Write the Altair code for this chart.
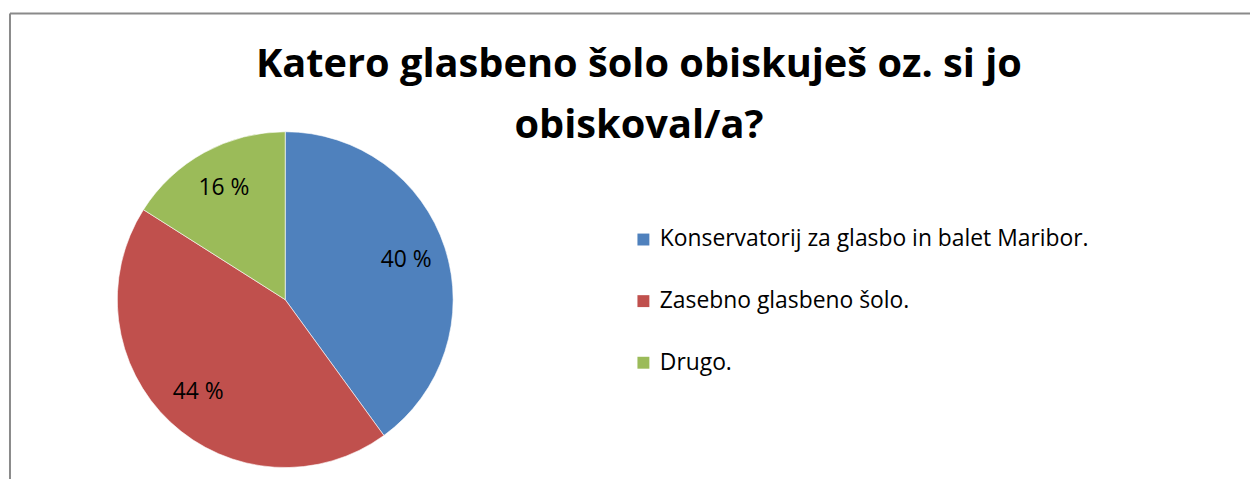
import altair as alt
import pandas as pd

categories = ["Konservatorij za glasbo in balet Maribor.", "Zasebno glasbeno šolo.", "Drugo."]
values = [40, 44, 16]
labels = ["40 %", "44 %", "16 %"]
order = [0, 1, 2]
colors = ["#4F81BD", "#C0504D", "#9BBB59"]
title_lines = ["Katero glasbeno šolo obiskuješ oz. si jo", "obiskoval/a?"]

df = pd.DataFrame({"cat": categories, "val": values, "lab": labels, "ord": order})

W, H = 1248, 467
CX, CY = 277, 288
FONT = "Open Sans"

base = alt.Chart(df).encode(
    theta=alt.Theta("val:Q", stack=True),
    order=alt.Order("ord:Q"),
)

pie = base.mark_arc(outerRadius=169, x=CX, y=CY, stroke="white", strokeWidth=0.6).encode(
    color=alt.Color(
        "cat:N",
        scale=alt.Scale(domain=categories, range=colors),
        sort=categories,
        legend=alt.Legend(
            orient="none", legendX=626, legendY=216, title=None,
            symbolType="square", symbolSize=144, symbolStrokeWidth=0,
            labelFontSize=23, labelFont=FONT, labelColor="black",
            rowPadding=38, labelOffset=5, labelLimit=600,
        ),
    ),
)

text = base.mark_text(radius=128, x=CX, y=CY, fontSize=23, font=FONT, color="black").encode(
    text="lab:N",
)

frame_df = pd.DataFrame({"k": [0]})
top_rule = alt.Chart(frame_df).mark_rule(color="#8a8a8a", strokeWidth=2).encode(
    x=alt.value(0), x2=alt.value(W), y=alt.value(0)
)
left_rule = alt.Chart(frame_df).mark_rule(color="#8a8a8a", strokeWidth=2).encode(
    x=alt.value(0), y=alt.value(0), y2=alt.value(H + 30)
)

chart = alt.layer(top_rule, left_rule, pie, text).properties(
    width=W,
    height=H,
    background="white",
    autosize=alt.AutoSizeParams(type="none"),
    padding={"left": 2, "top": 4, "right": 0, "bottom": 0},
    title=alt.TitleParams(
        text=title_lines, fontSize=40, font=FONT, fontWeight="bold", color="black",
        anchor="middle", frame="group", offset=0, dy=166, dx=9,
        baseline="alphabetic", lineHeight=61,
    ),
).configure_view(stroke=None)

chart.save("out.html", embed_options={"renderer": "svg", "actions": False})
